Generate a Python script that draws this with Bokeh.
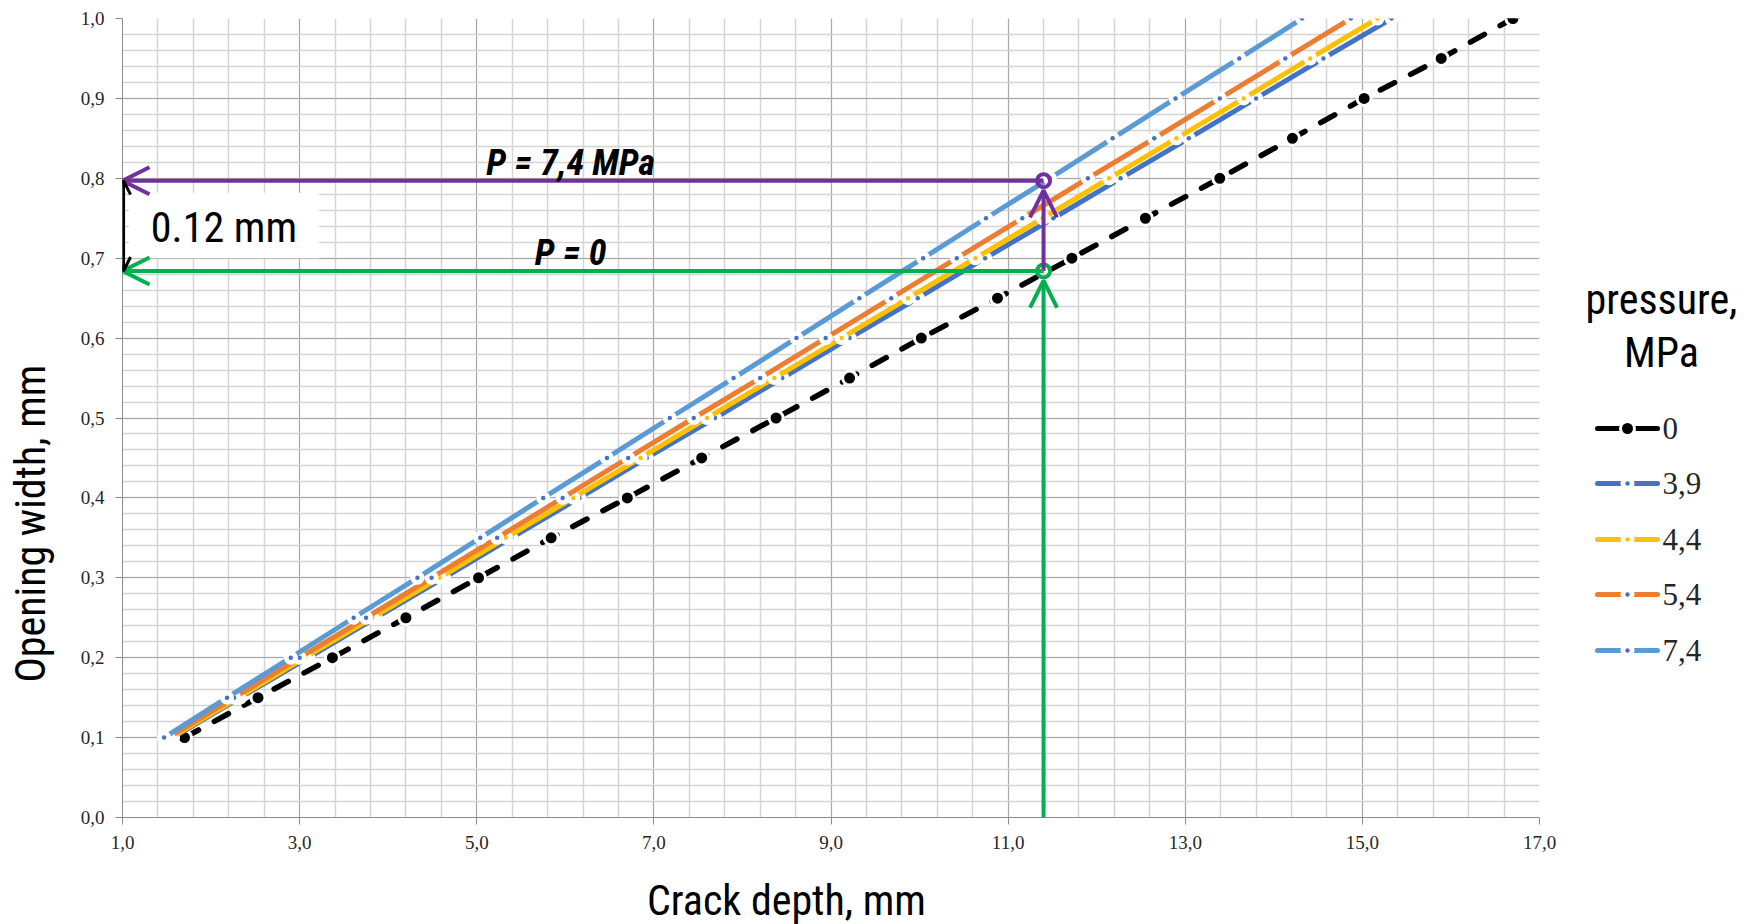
import numpy as np
from bokeh.plotting import figure
from bokeh.models import Range1d, FixedTicker, Label, Arrow, OpenHead
from bokeh.layouts import row, column
from bokeh.embed import file_html
from bokeh.resources import INLINE

# ---------------- data ----------------
opening_width = [0.10, 0.15, 0.20, 0.25, 0.30, 0.35, 0.40, 0.45, 0.50, 0.55,
                 0.60, 0.65, 0.70, 0.75, 0.80, 0.85, 0.90, 0.95, 1.00]
depth_p0 = [1.70, 2.53, 3.37, 4.20, 5.02, 5.84, 6.70, 7.54, 8.38, 9.21,
            10.02, 10.88, 11.72, 12.55, 13.39, 14.21, 15.02, 15.89, 16.70]
depth_p39 = [1.57, 2.33, 3.10, 3.86, 4.63, 5.39, 6.16, 6.92, 7.69, 8.45,
             9.21, 9.98, 10.74, 11.51, 12.27, 13.04, 13.80, 14.56, 15.33]
depth_p44 = [1.55, 2.31, 3.06, 3.82, 4.58, 5.33, 6.09, 6.85, 7.60, 8.36,
             9.12, 9.87, 10.63, 11.39, 12.14, 12.90, 13.66, 14.41, 15.17]
depth_p54 = [1.52, 2.26, 3.00, 3.75, 4.49, 5.23, 5.97, 6.71, 7.45, 8.20,
             8.94, 9.68, 10.42, 11.16, 11.90, 12.65, 13.39, 14.13, 14.87]
depth_p74 = [1.47, 2.18, 2.90, 3.61, 4.33, 5.04, 5.75, 6.47, 7.18, 7.90,
             8.61, 9.32, 10.04, 10.75, 11.47, 12.18, 12.89, 13.61, 14.32]

series_names = ["0", "3,9", "4,4", "5,4", "7,4"]
series_depths = [depth_p0, depth_p39, depth_p44, depth_p54, depth_p74]
line_colors = ["#000000", "#4472C4", "#FFC000", "#ED7D31", "#5B9BD5"]
dot_colors = ["#000000", "#4472C4", "#FFC000", "#4472C4", "#4472C4"]

x_ticks = [1.0, 3.0, 5.0, 7.0, 9.0, 11.0, 13.0, 15.0, 17.0]
x_tick_labels = ["1,0", "3,0", "5,0", "7,0", "9,0", "11,0", "13,0", "15,0", "17,0"]
y_ticks = [0.0, 0.1, 0.2, 0.3, 0.4, 0.5, 0.6, 0.7, 0.8, 0.9, 1.0]
y_tick_labels = ["0,0", "0,1", "0,2", "0,3", "0,4", "0,5", "0,6", "0,7", "0,8", "0,9", "1,0"]

x_title = "Crack depth, mm"
y_title = "Opening width, mm"

# annotation values
mark_depth = 11.4
width_at_p0 = 0.684
width_at_p74 = 0.797
delta_text = "0.12 mm"
label_p74 = "P = 7,4 MPa"
label_p0 = "P = 0"
legend_title = ["pressure,", "MPa"]

PURPLE = "#7030A0"
GREEN = "#00B050"
COND = "Roboto Condensed"
SERIF = "Liberation Serif"

TOTAL_W, TOTAL_H = 1756, 924
TOP_H = 866               # height of the row holding the chart
XL_H = TOTAL_H - TOP_H    # x-title strip
FT, FB = 18, TOP_H - 817  # frame top / bottom borders shared by the row
YL_W = 60
MAIN_W = 1520
LEG_W = 174
FRAME_L, FRAME_R = 122, 1539

# ---------------- y title panel ----------------
yl = figure(width=YL_W, height=TOP_H, x_range=Range1d(0, YL_W),
            y_range=Range1d(TOP_H - FB, FT), output_backend="svg", toolbar_location=None,
            min_border_left=0, min_border_right=0, min_border_top=FT, min_border_bottom=FB)
yl.axis.visible = False
yl.grid.visible = False
yl.outline_line_color = None
yl.add_layout(Label(x=30, y=523, text=y_title, angle=np.pi / 2, text_align="center",
                    text_baseline="middle", text_font=COND, text_font_size="42px",
                    text_color="black"))

# ---------------- main chart ----------------
p = figure(width=MAIN_W, height=TOP_H, x_range=Range1d(1, 17), y_range=Range1d(0, 1),
           output_backend="svg", toolbar_location=None,
           min_border_left=FRAME_L - YL_W, min_border_right=MAIN_W + YL_W - FRAME_R,
           min_border_top=FT, min_border_bottom=FB)
p.outline_line_color = None

xt = FixedTicker(ticks=x_ticks, minor_ticks=list(np.round(np.arange(1, 17.001, 0.4), 3)))
yt = FixedTicker(ticks=y_ticks, minor_ticks=list(np.round(np.arange(0, 1.0001, 0.02), 3)))
p.xaxis.ticker = xt
p.yaxis.ticker = yt
p.xgrid.ticker = xt
p.ygrid.ticker = yt
p.xaxis.major_label_overrides = dict(zip(x_ticks, x_tick_labels))
p.yaxis.major_label_overrides = dict(zip(y_ticks, y_tick_labels))

for g in (p.xgrid, p.ygrid):
    g.grid_line_color = "#a8a8a8"
    g.grid_line_width = 1
    g.minor_grid_line_color = "#d4d4d4"
    g.minor_grid_line_width = 1.5

for ax in (p.xaxis, p.yaxis):
    ax.axis_line_color = "#8c8c8c"
    ax.axis_line_width = 1
    ax.major_tick_line_color = "#8c8c8c"
    ax.major_tick_out = 7
    ax.major_tick_in = 0
    ax.minor_tick_out = 0
    ax.minor_tick_in = 0
    ax.major_label_text_font = SERIF
    ax.major_label_text_font_size = "19px"
    ax.major_label_text_color = "#262626"
    ax.major_label_standoff = 11

# series
for name, xs, lc, dc in zip(series_names, series_depths, line_colors, dot_colors):
    if name == "0":
        p.line(xs, opening_width, line_color=lc, line_width=5.5, line_dash="16 18",
               line_cap="round")
        p.scatter(xs, opening_width, size=14, fill_color=lc, line_color="white",
                  line_width=3)
    else:
        p.line(xs, opening_width, line_color=lc, line_width=5)
        p.scatter(xs, opening_width, size=11, fill_color="white", line_color="white",
                  line_width=3)
        p.scatter(xs, opening_width, size=4.5, fill_color=dc, line_color=None)

# annotations
p.quad(left=1.07, right=3.22, bottom=0.700, top=0.782, fill_color="white",
       line_color=None)

head_gap = 0.012
p.add_layout(Arrow(x_start=mark_depth, y_start=width_at_p74, x_end=1.0, y_end=width_at_p74,
                   line_color=PURPLE, line_width=4,
                   end=OpenHead(size=27, line_color=PURPLE, line_width=4)))
p.add_layout(Arrow(x_start=mark_depth, y_start=width_at_p0, x_end=mark_depth,
                   y_end=width_at_p74 - head_gap, line_color=PURPLE, line_width=4,
                   end=OpenHead(size=27, line_color=PURPLE, line_width=4)))
p.add_layout(Arrow(x_start=mark_depth, y_start=width_at_p0, x_end=1.0, y_end=width_at_p0,
                   line_color=GREEN, line_width=4,
                   end=OpenHead(size=27, line_color=GREEN, line_width=4)))
p.add_layout(Arrow(x_start=mark_depth, y_start=0.0, x_end=mark_depth,
                   y_end=width_at_p0 - head_gap, line_color=GREEN, line_width=4,
                   end=OpenHead(size=27, line_color=GREEN, line_width=4)))
p.add_layout(Arrow(x_start=1.012, y_start=width_at_p0, x_end=1.012, y_end=width_at_p74,
                   line_color="black", line_width=3,
                   start=OpenHead(size=14, line_color="black", line_width=3),
                   end=OpenHead(size=14, line_color="black", line_width=3)))

p.scatter([mark_depth], [width_at_p74], size=13, fill_color=None, line_color=PURPLE,
          line_width=4)
p.scatter([mark_depth], [width_at_p0], size=13, fill_color=None, line_color=GREEN,
          line_width=4)

p.add_layout(Label(x=6.06, y=width_at_p74 + 0.022, text=label_p74, text_align="center",
                   text_baseline="alphabetic", text_font=COND, text_font_size="36px",
                   text_font_style="bold italic", text_color="black"))
p.add_layout(Label(x=6.06, y=width_at_p0 + 0.022, text=label_p0, text_align="center",
                   text_baseline="alphabetic", text_font=COND, text_font_size="36px",
                   text_font_style="bold italic", text_color="black"))
p.add_layout(Label(x=1.32, y=0.7385, text=delta_text, text_align="left",
                   text_baseline="middle", text_font=COND, text_font_size="42px",
                   text_color="black"))

# ---------------- legend panel ----------------
x0 = YL_W + MAIN_W
lg = figure(width=LEG_W, height=TOP_H, x_range=Range1d(x0, x0 + LEG_W),
            y_range=Range1d(TOP_H - FB, FT), output_backend="svg", toolbar_location=None,
            min_border_left=0, min_border_right=0, min_border_top=FT, min_border_bottom=FB)
lg.axis.visible = False
lg.grid.visible = False
lg.outline_line_color = None

title_center = 1661
lg.add_layout(Label(x=title_center, y=299, text=legend_title[0], text_align="center",
                    text_baseline="alphabetic", text_font=COND, text_font_size="42px",
                    text_color="black"))
lg.add_layout(Label(x=title_center, y=352, text=legend_title[1], text_align="center",
                    text_baseline="alphabetic", text_font=COND, text_font_size="42px",
                    text_color="black"))

item_y = [428, 483, 539, 594, 650]
gx0, gx1 = 1597, 1657
for name, lc, dc, yy in zip(series_names, line_colors, dot_colors, item_y):
    lg.line([gx0, gx1], [yy, yy], line_color=lc, line_width=5, line_cap="round")
    gm = (gx0 + gx1) / 2
    if name == "0":
        lg.scatter([gm], [yy], size=14, fill_color=lc, line_color="white", line_width=3)
    else:
        lg.scatter([gm], [yy], size=11, fill_color="white", line_color="white", line_width=3)
        lg.scatter([gm], [yy], size=4.5, fill_color=dc, line_color=None)
    lg.add_layout(Label(x=gx1 + 5, y=yy, text=name, text_align="left",
                        text_baseline="middle", text_font=SERIF, text_font_size="31px",
                        text_color="#262626"))

# ---------------- x title strip ----------------
xl = figure(width=TOTAL_W, height=XL_H, x_range=Range1d(FRAME_L, FRAME_R),
            y_range=Range1d(TOTAL_H, TOP_H), output_backend="svg", toolbar_location=None,
            min_border_left=FRAME_L, min_border_right=TOTAL_W - FRAME_R,
            min_border_top=0, min_border_bottom=0)
xl.axis.visible = False
xl.grid.visible = False
xl.outline_line_color = None
xl.add_layout(Label(x=786, y=900, text=x_title, text_align="center",
                    text_baseline="middle", text_font=COND, text_font_size="42px",
                    text_color="black"))

layout = column(row(yl, p, lg), xl)
open("out.html", "w").write(file_html(layout, INLINE))
